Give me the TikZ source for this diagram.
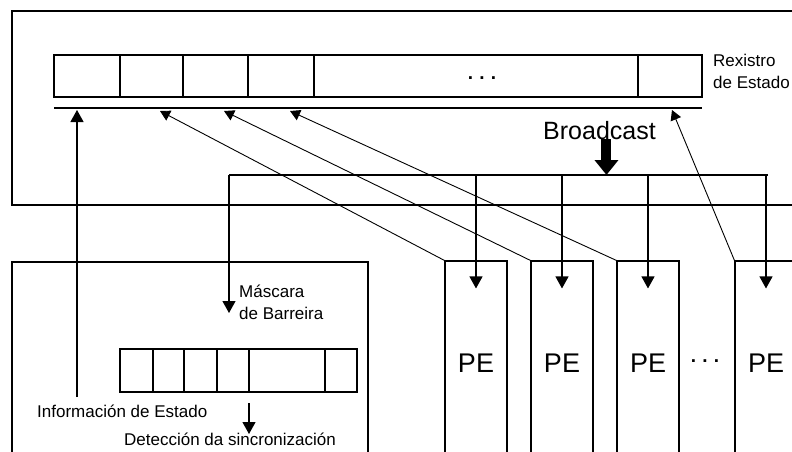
\documentclass[tikz,border=0pt]{standalone}
\usepackage{fontspec}
\setmainfont{Liberation Sans}
\usetikzlibrary{arrows.meta,positioning,calc}

\begin{document}
\begin{tikzpicture}[
    x=1pt, y=-1pt,
    >=Triangle,
    box/.style={
        rectangle, draw=black, line width=1.2pt, inner sep=0pt
    },
    regbox/.style={
        rectangle, draw=black, line width=1.1pt, inner sep=0pt
    },
    pebox/.style={
        rectangle, draw=black, line width=1.1pt, inner sep=0pt,
        minimum width=62pt, minimum height=204pt,
        font=\fontsize{27pt}{30pt}\selectfont
    },
    lbl/.style={
        inner sep=0pt, align=left, font=\fontsize{17pt}{21.5pt}\selectfont
    },
    dots/.style={
        inner sep=0pt, font=\fontsize{19pt}{20pt}\selectfont\bfseries
    },
    arr/.style={
        -{Triangle[length=12pt, width=13pt]}, line width=1.1pt, draw=black
    },
    diagarr/.style={
        -{Triangle[length=10pt, width=11pt]}, line width=0.9pt, draw=black
    },
    fatarrow/.style={
        -{Triangle[length=15pt, width=23pt]}, line width=10pt, draw=black
    }
]

\useasboundingbox (0,0) rectangle (792,452);
\clip (0,0) rectangle (792,452);

% ==================== SYNC UNIT (TOP) ====================
\node[box, minimum width=790pt, minimum height=194pt] (sync) at (407,108) {};

\node[regbox, minimum width=648pt, minimum height=42pt] (reg) at (378,76) {};
\foreach \x/\w in {120/2.2, 183/2.2, 248/1.1, 314/2.2, 638/2.2}
    \draw[line width=\w pt] (\x,55) -- (\x,97);
\node[dots] (regdots) at (482,78) {.\,\,.\,\,.};

\node[lbl, anchor=north west] (reglbl) at (713,54) {Rexistro\\de Estado};

% status bus under the register
\coordinate (busL) at (54,108);
\coordinate (busR) at (702,108);
\draw[line width=1.1pt] (busL) -- (busR);

% ==================== BROADCAST ====================
\node[inner sep=0pt, anchor=base west, font=\fontsize{25pt}{28pt}\selectfont] (bcast) at (543,139) {Broadcast};
\coordinate (bcL) at (229,175);
\coordinate (bcR) at (768,175);
\draw[fatarrow] ([xshift=7pt]bcast.south) -- ([xshift=7pt]bcast.south |- bcL);

% ==================== PROCESSING ELEMENTS ====================
\node[pebox] (pe1) at (476,363) {PE};
\node[pebox] (pe2) at (562,363) {PE};
\node[pebox] (pe3) at (648,363) {PE};
\node[pebox] (pe4) at (766,363) {PE};
\node[dots] (pedots) at (705,361) {.\,\,.\,\,.};

% ==================== BARRIER CONTROL (BOTTOM LEFT) ====================
\node[box, minimum width=356pt, minimum height=210pt] (ctrl) at (190,367) {};

\node[regbox, minimum width=237pt, minimum height=43pt] (mask) at (238.5,370.5) {};
\foreach \x/\w in {153/2.2, 184/2.2, 217/1.1, 249/1.1, 325/2.2}
    \draw[line width=\w pt] (\x,349) -- (\x,392);

\node[lbl, anchor=base west] (masklbl) at (239,319) {Máscara\\de Barreira};
\node[lbl, anchor=base west] (infolbl) at (37,417) {Información de Estado};
\node[lbl, anchor=base west] (detlbl) at (124,445) {Detección da sincronización};

% ==================== CONNECTORS ====================
\coordinate (mtip) at (229,313);
\draw[line width=1.1pt] (bcR) -- (bcL);
\draw[arr] (bcL) -- (mtip);

\foreach \p in {pe1,pe2,pe3,pe4}
    \draw[arr] (\p.center |- bcL) -- ([yshift=-28pt]\p.north);

\coordinate (in1) at (160,111);
\coordinate (in2) at (224,111);
\coordinate (in3) at (290,111);
\coordinate (in4) at (672,110);
\draw[diagarr] (pe1.north west) -- (in1);
\draw[diagarr] (pe2.north west) -- (in2);
\draw[diagarr] (pe3.north west) -- (in3);
\draw[diagarr] (pe4.north west) -- (in4);

\coordinate (infost) at (77,397);
\coordinate (infotip) at (77,110);
\draw[arr] (infost) -- (infotip);
\coordinate (detst) at (249,403);
\coordinate (dettip) at (249,434);
\draw[arr] (detst) -- (dettip);

\end{tikzpicture}
\end{document}
